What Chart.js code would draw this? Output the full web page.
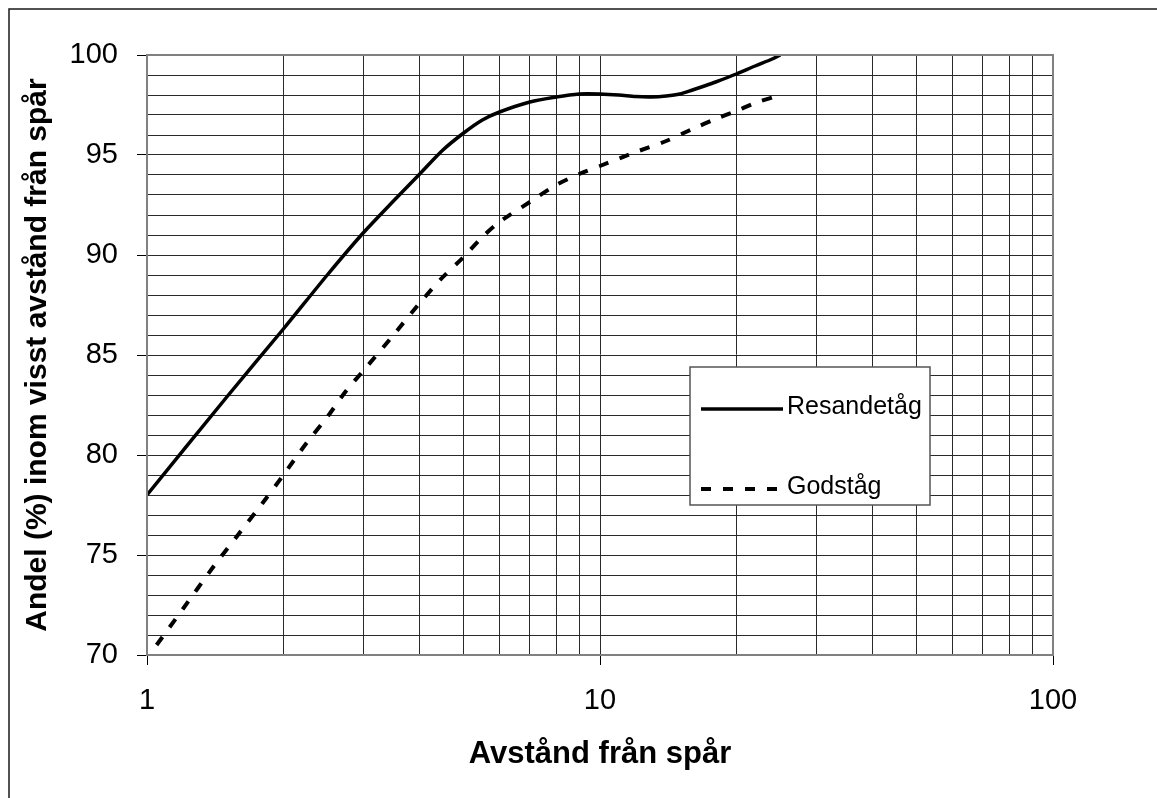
<!DOCTYPE html>
<html>
<head>
<meta charset="utf-8">
<script src="https://cdn.jsdelivr.net/npm/chart.js@4/dist/chart.umd.min.js"></script>
<style>
  html, body { margin: 0; padding: 0; background: #fff; }
  #wrap { width: 1157px; height: 798px; position: relative; }
  canvas { display: block; }
</style>
</head>
<body>
<div id="wrap"><canvas id="c" width="1157" height="798"></canvas></div>
<script>
// ---- Data ----
const resandeX = [1, 1.5, 2, 2.5, 3, 3.5, 4, 4.5, 5, 5.5, 6, 7, 8, 9, 10, 11, 12, 13, 14, 15, 16, 17, 18, 20, 22, 24, 25];
const resandeY = [78, 82.9, 86.3, 89.0, 91.1, 92.7, 94.05, 95.25, 96.1, 96.75, 97.15, 97.65, 97.9, 98.05, 98.05, 98.0, 97.92, 97.9, 97.95, 98.05, 98.25, 98.45, 98.65, 99.05, 99.45, 99.8, 100];

const godsX = [1.05, 1.2, 1.4, 1.6, 1.8, 2, 2.25, 2.5, 2.75, 3, 3.5, 4, 4.5, 5, 5.5, 6, 7, 8, 9, 10, 12, 14, 16, 18, 20, 22, 25];
const godsY = [70.5, 72.3, 74.4, 76.1, 77.6, 79.0, 80.6, 81.9, 83.2, 84.2, 86.0, 87.6, 88.9, 89.9, 90.9, 91.65, 92.65, 93.5, 94.05, 94.45, 95.15, 95.7, 96.3, 96.8, 97.2, 97.6, 98.0];

const seriesLabels = ['Resandetåg', 'Godståg'];
const xGridValues = [1, 2, 3, 4, 5, 6, 7, 8, 9, 10, 20, 30, 40, 50, 60, 70, 80, 90, 100];
const xTickLabels = [1, 10, 100];
const yTickLabels = [70, 75, 80, 85, 90, 95, 100];
const xTitle = 'Avstånd från spår';
const yTitle = 'Andel (%) inom visst avstånd från spår';

// ---- Build ----
const toPoints = (xs, ys) => xs.map((x, i) => ({ x: x, y: ys[i] }));
const FONT = "'Liberation Sans', Arial, sans-serif";

const framePlugin = {
  id: 'frame',
  beforeDraw(chart) {
    const ctx = chart.ctx;
    ctx.save();
    ctx.fillStyle = '#fff';
    ctx.fillRect(0, 0, chart.width, chart.height);
    ctx.strokeStyle = '#1a1a1a';
    ctx.lineWidth = 1.5;
    ctx.beginPath();
    ctx.moveTo(9, chart.height + 5);
    ctx.lineTo(9, 9);
    ctx.lineTo(chart.width + 5, 9);
    ctx.stroke();
    ctx.restore();
  },
  afterDatasetsDraw(chart) {
    const a = chart.chartArea;
    const ctx = chart.ctx;
    ctx.save();
    ctx.strokeStyle = '#808080';
    ctx.lineWidth = 2;
    ctx.strokeRect(a.left, a.top, a.right - a.left, a.bottom - a.top);
    ctx.restore();
  }
};

const legendBoxPlugin = {
  id: 'legendBox',
  afterDraw(chart) {
    const ctx = chart.ctx;
    const box = { x: 690, y: 367, w: 240, h: 138 };
    ctx.save();
    ctx.fillStyle = '#fff';
    ctx.fillRect(box.x, box.y, box.w, box.h);
    ctx.strokeStyle = '#555';
    ctx.lineWidth = 1.5;
    ctx.strokeRect(box.x, box.y, box.w, box.h);
    const rows = [409, 489];
    chart.data.datasets.forEach((ds, i) => {
      const y = rows[i];
      ctx.strokeStyle = ds.borderColor;
      ctx.lineWidth = ds.borderWidth;
      ctx.setLineDash(ds.borderDash || []);
      ctx.beginPath();
      ctx.moveTo(701, y);
      ctx.lineTo(783, y);
      ctx.stroke();
      ctx.setLineDash([]);
      ctx.fillStyle = '#000';
      ctx.font = '25px ' + FONT;
      ctx.textBaseline = 'middle';
      ctx.textAlign = 'left';
      ctx.fillText(ds.label, 787, y - 2);
    });
    ctx.restore();
  }
};

new Chart(document.getElementById('c'), {
  type: 'line',
  data: {
    datasets: [
      {
        label: seriesLabels[0],
        data: toPoints(resandeX, resandeY),
        borderColor: '#000',
        borderWidth: 3.5,
        pointRadius: 0,
        tension: 0.3,
        fill: false
      },
      {
        label: seriesLabels[1],
        data: toPoints(godsX, godsY),
        borderColor: '#000',
        borderWidth: 4,
        borderDash: [10, 12],
        pointRadius: 0,
        tension: 0.3,
        fill: false
      }
    ]
  },
  options: {
    responsive: false,
    animation: false,
    devicePixelRatio: 1,
    layout: { padding: { top: 55, right: 104, left: 0, bottom: 0 } },
    plugins: {
      legend: { display: false },
      tooltip: { enabled: false }
    },
    scales: {
      x: {
        type: 'logarithmic',
        min: 1,
        max: 100,
        afterBuildTicks(scale) {
          scale.ticks = xGridValues.map(v => ({ value: v }));
        },
        afterFit(scale) { scale.height = 143; },
        ticks: {
          autoSkip: false,
          maxRotation: 0,
          padding: 19,
          color: '#000',
          font: { family: FONT, size: 29 },
          callback: (v) => xTickLabels.includes(v) ? String(v) : ''
        },
        grid: {
          color: '#2a2a2a',
          lineWidth: 1,
          tickLength: 10,
          tickColor: (c) => (c.tick && xTickLabels.includes(c.tick.value)) ? '#000' : 'rgba(0,0,0,0)'
        },
        border: { display: true, color: '#808080', width: 2 },
        title: {
          display: true,
          text: xTitle,
          color: '#000',
          font: { family: FONT, size: 31, weight: 'bold' },
          padding: { top: 0, bottom: 25 }
        }
      },
      y: {
        type: 'linear',
        min: 70,
        max: 100,
        afterFit(scale) { scale.width = 147; },
        ticks: {
          stepSize: 1,
          autoSkip: false,
          padding: 19,
          color: '#000',
          font: { family: FONT, size: 29 },
          callback: (v) => yTickLabels.includes(v) ? String(v) : ''
        },
        grid: {
          color: '#2a2a2a',
          lineWidth: 1,
          tickLength: 10,
          tickColor: (c) => (c.tick && yTickLabels.includes(c.tick.value)) ? '#000' : 'rgba(0,0,0,0)'
        },
        border: { display: true, color: '#808080', width: 2 },
        title: {
          display: true,
          text: yTitle,
          color: '#000',
          font: { family: FONT, size: 30, weight: 'bold' },
          padding: { top: 20, bottom: 0 }
        }
      }
    }
  },
  plugins: [framePlugin, legendBoxPlugin]
});
</script>
</body>
</html>
